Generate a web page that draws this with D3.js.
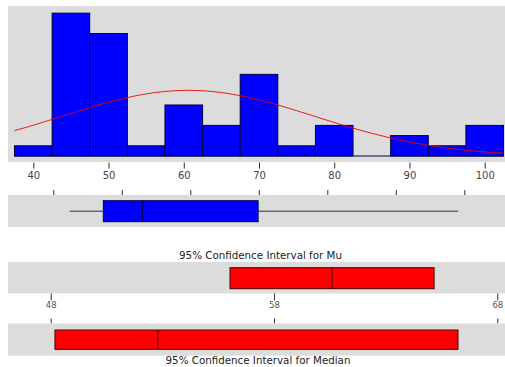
<!DOCTYPE html>
<html>
<head>
<meta charset="utf-8">
<script src="https://cdn.jsdelivr.net/npm/d3@7"></script>
<style>
  html, body { margin: 0; padding: 0; background: #fff; }
  svg { display: block; }
  text { font-family: "DejaVu Sans", Verdana, sans-serif; }
</style>
</head>
<body>
<svg id="chart" width="505" height="367"></svg>
<script>
// Histogram: bin edges start and width, counts per bin
const binStart = 37.5;
const binWidth = 5;
const binCounts = [1, 14, 12, 1, 5, 3, 8, 1, 3, 0, 2, 1, 3];
const histTicks = [40, 50, 60, 70, 80, 90, 100];

// Summary statistics
const sampleN = 54;
const sampleMean = 60.6;
const sampleSD = 16.74;

// Boxplot: [lower whisker, Q1, median, Q3, upper whisker]
const boxStats = [42.4, 47.3, 53.0, 69.9, 99.1];
const boxTicks = [40, 50, 60, 70, 80, 90, 100];

// Confidence intervals: [low, centre, high]
const muCI = [56.03, 60.6, 65.17];
const medianCI = [48.19, 52.8, 66.24];
const ciTicks = [48, 58, 68];

const svg = d3.select("#chart");
const panelLeft = 8, panelRight = 505;
const grey = "#dcdcdc";
const fontFam = "'DejaVu Sans', Verdana, sans-serif";

// ---- Histogram panel ----
const xHist = d3.scaleLinear().domain([40, 100]).range([33.3, 484.7]);
const yHist = d3.scaleLinear().domain([0, 14.7]).range([156, 6]);

svg.append("rect")
  .attr("x", panelLeft).attr("y", 6)
  .attr("width", panelRight - panelLeft).attr("height", 156)
  .attr("fill", grey);

const bins = binCounts.map((c, i) => ({
  x0: binStart + i * binWidth,
  x1: binStart + (i + 1) * binWidth,
  count: c
}));

svg.append("g").selectAll("rect")
  .data(bins)
  .join("rect")
  .attr("x", d => xHist(d.x0))
  .attr("y", d => yHist(d.count))
  .attr("width", d => xHist(d.x1) - xHist(d.x0))
  .attr("height", d => yHist(0) - yHist(d.count))
  .attr("fill", "#0000ff")
  .attr("stroke", "#000040")
  .attr("stroke-width", 1);

// baseline under the bins
svg.append("line")
  .attr("x1", xHist(binStart)).attr("x2", xHist(binStart + binCounts.length * binWidth))
  .attr("y1", yHist(0)).attr("y2", yHist(0))
  .attr("stroke", "#000040").attr("stroke-width", 1);

// fitted normal curve scaled to counts
const normalPts = d3.range(binStart, binStart + binCounts.length * binWidth + 0.01, 0.5).map(x => {
  const z = (x - sampleMean) / sampleSD;
  const dens = Math.exp(-0.5 * z * z) / (sampleSD * Math.sqrt(2 * Math.PI));
  return [x, dens * sampleN * binWidth];
});
svg.append("path")
  .datum(normalPts)
  .attr("d", d3.line().x(d => xHist(d[0])).y(d => yHist(d[1])))
  .attr("fill", "none")
  .attr("stroke", "#ee0000")
  .attr("stroke-width", 0.9);

// histogram axis
const histAxis = svg.append("g")
  .attr("transform", "translate(0,162)")
  .call(d3.axisBottom(xHist).tickValues(histTicks).tickSize(6).tickPadding(4).tickFormat(d3.format("d")));
histAxis.select(".domain").remove();
histAxis.selectAll("line").attr("stroke", "#333").attr("transform", "translate(0,0.5)");
histAxis.selectAll("text").attr("fill", "#444").attr("font-size", 10)
  .attr("font-family", fontFam);

// ---- Boxplot panel ----
const xBox = d3.scaleLinear().domain([40, 100]).range([53.3, 464.3]);

const boxAxis = svg.append("g")
  .attr("transform", "translate(0,195)")
  .call(d3.axisTop(xBox).tickValues(boxTicks).tickSize(5).tickFormat(""));
boxAxis.select(".domain").remove();
boxAxis.selectAll("line").attr("stroke", "#333");

svg.append("rect")
  .attr("x", panelLeft).attr("y", 195)
  .attr("width", panelRight - panelLeft).attr("height", 32)
  .attr("fill", grey);

const boxY0 = 200.7, boxY1 = 221.7, boxMid = (boxY0 + boxY1) / 2;
svg.append("line")
  .attr("x1", xBox(boxStats[0])).attr("x2", xBox(boxStats[1]))
  .attr("y1", boxMid).attr("y2", boxMid)
  .attr("stroke", "#333").attr("stroke-width", 1);
svg.append("line")
  .attr("x1", xBox(boxStats[3])).attr("x2", xBox(boxStats[4]))
  .attr("y1", boxMid).attr("y2", boxMid)
  .attr("stroke", "#333").attr("stroke-width", 1);
svg.append("rect")
  .attr("x", xBox(boxStats[1])).attr("y", boxY0)
  .attr("width", xBox(boxStats[3]) - xBox(boxStats[1])).attr("height", boxY1 - boxY0)
  .attr("fill", "#0000ff").attr("stroke", "#000040").attr("stroke-width", 1);
svg.append("line")
  .attr("x1", xBox(boxStats[2])).attr("x2", xBox(boxStats[2]))
  .attr("y1", boxY0).attr("y2", boxY1)
  .attr("stroke", "#000040").attr("stroke-width", 1);

// ---- Confidence interval panels ----
const xCI = d3.scaleLinear().domain([48, 68]).range([50.7, 497.3]);

svg.append("text")
  .attr("x", 260.5).attr("y", 258.5)
  .attr("text-anchor", "middle")
  .attr("font-size", 10.3).attr("fill", "#222")
  .text("95% Confidence Interval for Mu");

svg.append("rect")
  .attr("x", panelLeft).attr("y", 262)
  .attr("width", panelRight - panelLeft).attr("height", 31.5)
  .attr("fill", grey);

function ciBar(ci, y0, y1) {
  svg.append("rect")
    .attr("x", xCI(ci[0])).attr("y", y0)
    .attr("width", xCI(ci[2]) - xCI(ci[0])).attr("height", y1 - y0)
    .attr("fill", "#ff0000").attr("stroke", "#4a0000").attr("stroke-width", 1);
  svg.append("line")
    .attr("x1", xCI(ci[1])).attr("x2", xCI(ci[1]))
    .attr("y1", y0).attr("y2", y1)
    .attr("stroke", "#4a0000").attr("stroke-width", 1);
}
ciBar(muCI, 267.7, 288.7);

const ciAxis = svg.append("g")
  .attr("transform", "translate(0,293.5)")
  .call(d3.axisBottom(xCI).tickValues(ciTicks).tickSize(7).tickPadding(1).tickFormat(d3.format("d")));
ciAxis.select(".domain").remove();
ciAxis.selectAll("line").attr("stroke", "#333");
ciAxis.selectAll("text").attr("fill", "#555").attr("font-size", 8.5)
  .attr("font-family", fontFam);

const ciAxis2 = svg.append("g")
  .attr("transform", "translate(0,323.5)")
  .call(d3.axisTop(xCI).tickValues(ciTicks).tickSize(5).tickFormat(""));
ciAxis2.select(".domain").remove();
ciAxis2.selectAll("line").attr("stroke", "#333");

svg.append("rect")
  .attr("x", panelLeft).attr("y", 323.5)
  .attr("width", panelRight - panelLeft).attr("height", 32.2)
  .attr("fill", grey);

ciBar(medianCI, 330, 349.3);

svg.append("text")
  .attr("x", 258).attr("y", 363.5)
  .attr("text-anchor", "middle")
  .attr("font-size", 10.3).attr("fill", "#222")
  .text("95% Confidence Interval for Median");
</script>
</body>
</html>
